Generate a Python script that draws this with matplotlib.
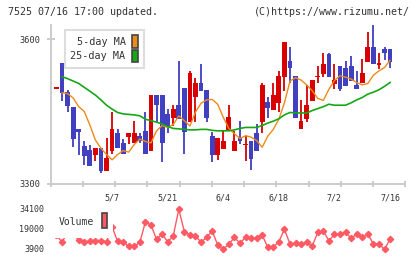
import numpy as np
import matplotlib.pyplot as plt
from matplotlib.patches import Patch, Rectangle

# daily candles, 61 sessions ending 7/16
opens = [3497, 3550, 3491, 3460, 3414, 3379, 3370, 3359, 3374, 3327,
         3369, 3406, 3385, 3398, 3384, 3399, 3410, 3369, 3484, 3484,
         3445, 3437, 3463, 3499, 3429, 3479, 3508, 3494, 3399, 3359,
         3372, 3412, 3369, 3396, 3380, 3389, 3405, 3429, 3469, 3453,
         3468, 3522, 3554, 3523, 3413, 3434, 3472, 3521, 3528, 3569,
         3507, 3544, 3539, 3544, 3505, 3508, 3553, 3583, 3547, 3579, 3579]
closes = [3499, 3489, 3461, 3393, 3407, 3358, 3338, 3374, 3327, 3354,
          3414, 3374, 3363, 3406, 3406, 3389, 3363, 3484, 3463, 3384,
          3419, 3455, 3434, 3408, 3529, 3508, 3493, 3437, 3359, 3395,
          3389, 3438, 3389, 3388, 3381, 3352, 3369, 3505, 3458, 3484,
          3523, 3594, 3539, 3437, 3430, 3463, 3515, 3522, 3548, 3522,
          3515, 3497, 3503, 3514, 3497, 3530, 3583, 3548, 3548, 3572, 3553]
highs = [3499, 3550, 3494, 3460, 3414, 3389, 3381, 3374, 3374, 3396,
         3448, 3413, 3394, 3406, 3430, 3405, 3448, 3484, 3484, 3484,
         3455, 3463, 3554, 3499, 3534, 3519, 3548, 3494, 3407, 3395,
         3410, 3463, 3410, 3430, 3399, 3389, 3424, 3508, 3481, 3508,
         3534, 3594, 3584, 3523, 3474, 3505, 3515, 3544, 3572, 3572,
         3548, 3544, 3554, 3565, 3534, 3559, 3614, 3629, 3572, 3583, 3579]
lows = [3497, 3472, 3448, 3377, 3360, 3339, 3338, 3348, 3323, 3327,
        3363, 3374, 3363, 3383, 3384, 3385, 3363, 3369, 3429, 3345,
        3405, 3419, 3434, 3363, 3429, 3429, 3493, 3429, 3345, 3350,
        3372, 3412, 3369, 3383, 3348, 3328, 3369, 3405, 3437, 3453,
        3448, 3493, 3508, 3437, 3413, 3429, 3472, 3508, 3522, 3522,
        3497, 3493, 3503, 3514, 3497, 3508, 3553, 3548, 3538, 3557, 3539]

# moving averages as drawn (first session has no value)
ma5 = [np.nan, 3489, 3487, 3478, 3460, 3450, 3422, 3391, 3374, 3361,
       3350, 3361, 3369, 3366, 3382, 3393, 3388, 3385, 3410, 3421,
       3417, 3423, 3441, 3431, 3420, 3449, 3467, 3474, 3475, 3465,
       3438, 3415, 3404, 3394, 3400, 3397, 3390, 3376, 3399, 3413,
       3434, 3468, 3513, 3520, 3515, 3505, 3493, 3477, 3473, 3496,
       3514, 3524, 3521, 3517, 3510, 3505, 3508, 3525, 3534, 3541, 3556]
ma25 = [np.nan, 3522, 3518, 3513, 3508, 3500, 3492, 3484, 3474, 3463,
        3455, 3448, 3445, 3444, 3443, 3441, 3434, 3431, 3428, 3424,
        3419, 3415, 3414, 3413, 3412, 3412, 3413, 3413, 3411, 3410,
        3410, 3410, 3412, 3415, 3417, 3417, 3417, 3421, 3426, 3430,
        3435, 3443, 3448, 3447, 3447, 3447, 3452, 3456, 3460, 3465,
        3463, 3463, 3463, 3468, 3474, 3479, 3486, 3490, 3495, 3502, 3510]

volume = [14500, 8960, 16700, 15200, 10700, 8960, 10300, 10300, 10300, 9400,
          20500, 9700, 8960, 5940, 5940, 8960, 24500, 22000, 11200, 15000,
          9400, 13700, 33900, 16960, 14470, 13940, 8960, 12730, 17490, 6920,
          3900, 7300, 12730, 8200, 12730, 11980, 11980, 14470, 5180, 5180,
          9410, 18770, 7680, 8200, 7680, 8960, 6170, 16510, 17490, 10170,
          15000, 15230, 16510, 11980, 15000, 12730, 15230, 7680, 7680, 3670, 11220]

date_labels = ['5/7', '5/21', '6/4', '6/18', '7/2', '7/16']
date_idx = [10, 20, 30, 40, 50, 60]
price_ticks = [3300, 3600]
vol_ticks = [3900, 19000, 34100]

RED = '#d80000'
BLUE = '#4040c0'
GRID = '#cccccc'
TXT = '#333333'
MONO = 'DejaVu Sans Mono'

plt.rcParams['font.family'] = MONO

fig = plt.figure(figsize=(4.2, 2.59), dpi=100)
ax = fig.add_axes([0.1207, 0.2896, 0.8443, 0.6139])
axv = fig.add_axes([0.1207, 0.0232, 0.8443, 0.1853])

x = np.arange(len(closes))
o = np.array(opens, float)
c = np.array(closes, float)
up = c >= o
cols = np.where(up, RED, BLUE)

ax.vlines(x, lows, highs, colors=cols, linewidth=1.3, zorder=2)
body = np.where(np.abs(c - o) < 3, 3, c - o)
ax.bar(x, body, bottom=o, width=0.86, color=cols, linewidth=0, zorder=3)

ax.plot(x, ma5, color='#ee8a1a', linewidth=1.0, zorder=4)
ax.plot(x, ma25, color='#14a814', linewidth=1.2, zorder=4)

xlo, xhi = -1.04, 62.74
ax.set_xlim(xlo, xhi)
ax.set_ylim(3300, 3629)
for s in ['top', 'right']:
    ax.spines[s].set_visible(False)
for s in ['left', 'bottom']:
    ax.spines[s].set_color(GRID)
    ax.spines[s].set_linewidth(1.4)

ax.set_xticks(np.linspace(xlo, xhi, 12))
ax.set_xticklabels([])
ax.set_xticks(date_idx, minor=True)
ax.set_xticklabels(date_labels, minor=True)
ax.tick_params(axis='x', which='major', direction='inout', length=5,
               width=1.4, color=GRID)
ax.tick_params(axis='x', which='minor', length=0, pad=7,
               labelsize=6, labelcolor=TXT)
ax.set_yticks(price_ticks)
ax.tick_params(axis='y', direction='inout', length=5.5, width=1.4,
               color=GRID, pad=4.6, labelsize=6.2, labelcolor=TXT)

handles = [Patch(facecolor='#ee8a1a', edgecolor='#444444', linewidth=1.2),
           Patch(facecolor='#14a814', edgecolor='#444444', linewidth=1.2)]
leg = ax.legend(handles, ['5-day MA', '25-day MA'], loc='upper left',
                bbox_to_anchor=(0.04, 0.97), borderaxespad=0,
                markerfirst=False, fontsize=7.3, handlelength=0.6,
                handleheight=1.5, labelspacing=0.2, handletextpad=0.66,
                borderpad=0.55, fancybox=False, framealpha=1,
                edgecolor='#dddddd', labelcolor=TXT)
leg.get_frame().set_linewidth(1.5)

# volume panel
axv.plot(x, volume, color='#ff5a64', linewidth=1.0, marker='D',
         markersize=3.2, zorder=2)
axv.set_xlim(xlo, xhi)
axv.set_ylim(880, 37120)
axv.set_yticks(vol_ticks)
axv.set_xticks([])
axv.tick_params(axis='y', length=0, pad=4.6, labelsize=6, labelcolor=TXT)
for s in axv.spines.values():
    s.set_visible(False)

axv.add_patch(Rectangle((0.1238, 0.0792), 0.1452, 0.1293,
                        transform=fig.transFigure, facecolor='white',
                        edgecolor='none', zorder=5, clip_on=False))
fig.text(58.3 / 420, 1 - 222 / 259, 'Volume', fontsize=7, color=TXT,
         va='center', ha='left', zorder=6)
axv.add_patch(Rectangle((101.7 / 420, 1 - 228 / 259), 5.6 / 420, 15 / 259,
                        transform=fig.transFigure, facecolor='#ff5a64',
                        edgecolor='#444444', linewidth=1.2, zorder=6,
                        clip_on=False))

fig.text(8 / 420, 1 - 12 / 259, '7525 07/16 17:00 updated.', fontsize=7.2,
         color=TXT, va='center', ha='left')
fig.text(410 / 420, 1 - 12 / 259, '(C)https://www.rizumu.net/', fontsize=7.2,
         color=TXT, va='center', ha='right')

fig.savefig('out.png', dpi=100)
